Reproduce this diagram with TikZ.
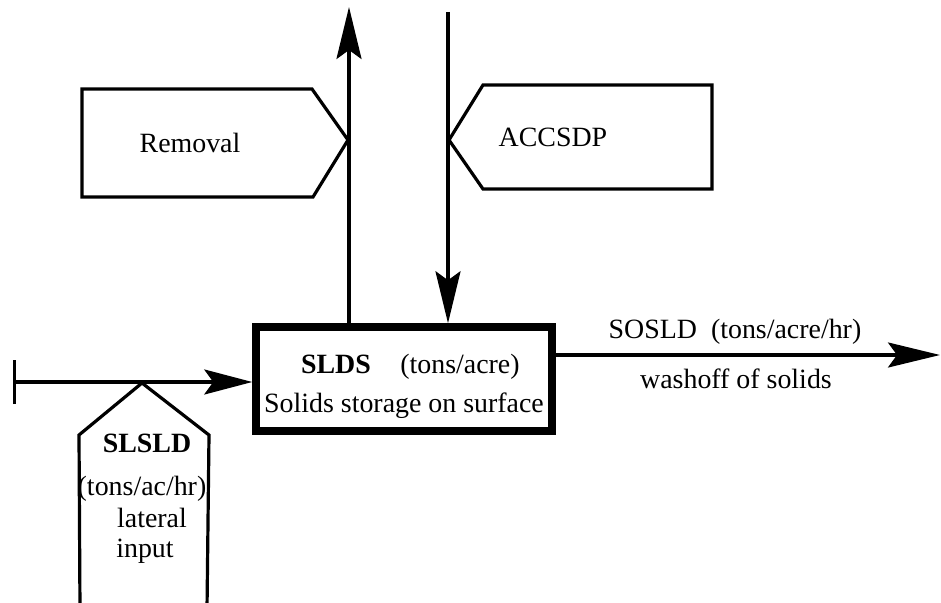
\documentclass[tikz,border=0pt]{standalone}
\usepackage{fontspec}
\setmainfont{Liberation Serif}
\usetikzlibrary{arrows.meta}
\begin{document}
\begin{tikzpicture}[x=1bp,y=-1bp,
  thinline/.style={line width=3.2bp},
  arr/.style={thinline,-{Stealth[length=52bp,width=25bp,inset=9bp]}},
  lbl/.style={anchor=base,inner sep=0pt,font=\fontsize{28}{33}\selectfont},
  mainbox/.style={draw,line width=7.5bp,minimum width=296bp,minimum height=104bp,inner sep=0pt}
]
\useasboundingbox (0,0) rectangle (941,603);
% main storage box
\node[mainbox] (sl) at (404,379) {};
\node[lbl] (sldsa) at (336,373) {\textbf{SLDS}};
\node[lbl] (sldsb) at (460,373) {(tons/acre)};
\node[lbl] (sldsc) at (404,412) {Solids storage on surface};
% tag shapes
\draw[thinline] (82,89) -- (312,89) -- (348,140) -- (313,197) -- (82,197) -- cycle;
\node[lbl] (rem) at (190,153) {Removal};
\draw[thinline] (449,140) -- (483,85) -- (712,85) -- (712,189) -- (483,189) -- cycle;
\node[lbl] (acc) at (553,147) {ACCSDP};
\draw[thinline] (80,610) -- (79,435) -- (142,383) -- (209,435) -- (207,610);
\node[lbl] (sls1) at (147,452) {\textbf{SLSLD}};
\node[lbl] (sls2) at (142,495) {(tons/ac/hr)};
\node[lbl] (sls3) at (152,527) {lateral};
\node[lbl] (sls4) at (145,557) {input};
% output labels
\node[lbl] (sos) at (735,338) {SOSLD\ \ (tons/acre/hr)};
\node[lbl] (wash) at (736,388) {washoff of solids};
% connectors
\coordinate (upend) at (349,7);
\draw[arr] (sl.north -| upend) -- (upend);
\coordinate (downstart) at (448,12);
\draw[arr] (downstart) -- (downstart |- sl.north);
\coordinate (instart) at (13,382);
\draw[thinline,{Bar[width=44bp]}-{Stealth[length=48bp,width=25bp,inset=9bp]}] (instart) -- (instart -| sl.west);
\coordinate (outend) at (940,355);
\draw[arr] (sl.east |- outend) -- (outend);
\end{tikzpicture}
\end{document}
